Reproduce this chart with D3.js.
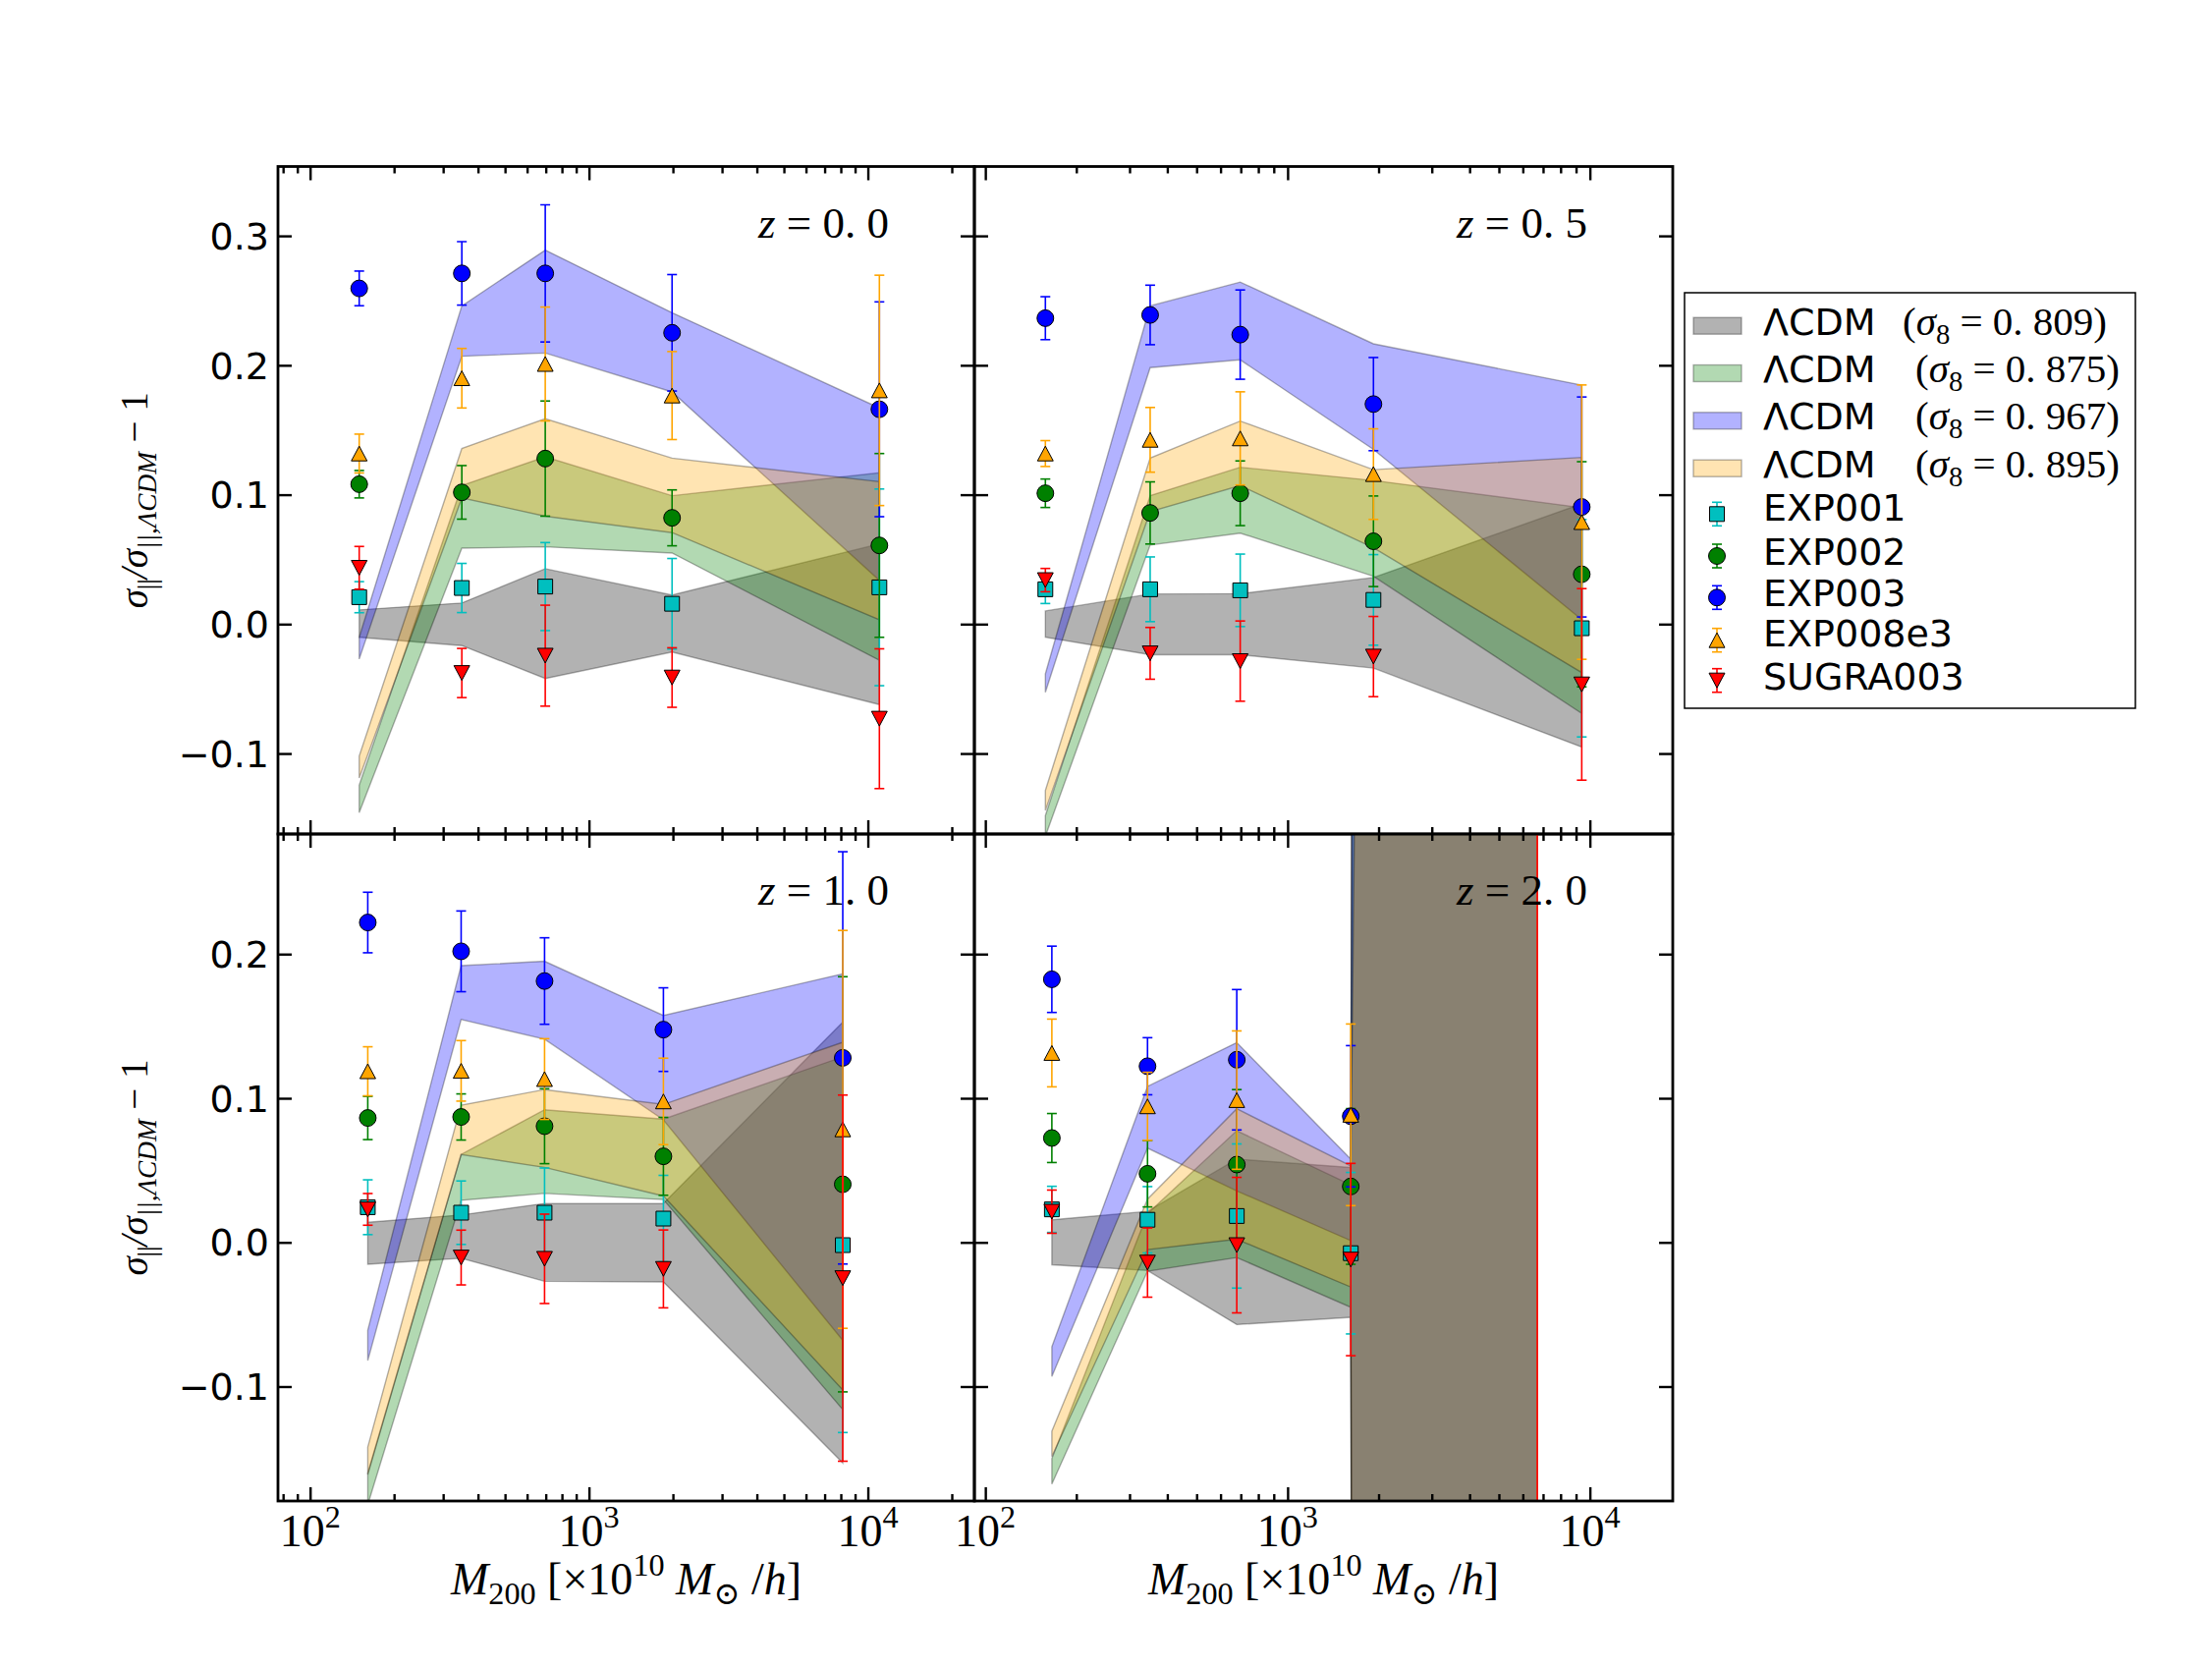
<!DOCTYPE html>
<html><head><meta charset="UTF-8">
<script src="https://cdn.jsdelivr.net/npm/d3@7"></script>
<style>
body{margin:0;background:#fff}
svg{display:block}
text{white-space:pre}
</style></head><body><svg id="fig" width="2252" height="1698"></svg>
<script>
// panels in reading order: z=0.0, z=0.5, z=1.0, z=2.0
const redshifts = ['0. 0', '0. 5', '1. 0', '2. 0'];
const massBins = [
  [150, 350, 697, 1986, 11000],
  [158, 351, 697, 1923, 9400],
  [161, 348, 693, 1849, 8130],
  [166, 344, 679, 1618, 6700]
];

// simulations (points with error bars); last z=2.0 bin is off scale
const exp001 = [[0.0208, 0.0279, 0.029, 0.0157, 0.0284], [0.0269, 0.0269, 0.0261, 0.0187, -0.0032], [0.0244, 0.0206, 0.0206, 0.0165, -0.0019], [0.0229, 0.0157, 0.0183, -0.0075, 2.5]];
const exp001Err = [[0.012, 0.019, 0.034, 0.035, 0.076], [0.011, 0.025, 0.028, 0.035, 0.084], [0.019, 0.022, 0.031, 0.03, 0.13], [0.016, 0.023, 0.05, 0.056, 30]];
const exp002 = [[0.1081, 0.1018, 0.1279, 0.0821, 0.0608], [0.1011, 0.0859, 0.1011, 0.064, 0.0385], [0.0863, 0.087, 0.0806, 0.0597, 0.0403], [0.0724, 0.0476, 0.054, 0.0388, 2.5]];
const exp002Err = [[0.0106, 0.0207, 0.0445, 0.0216, 0.071], [0.011, 0.024, 0.025, 0.035, 0.087], [0.015, 0.016, 0.026, 0.027, 0.144], [0.017, 0.023, 0.052, 0.054, 30]];
const exp003 = [[0.2594, 0.271, 0.271, 0.2251, 0.166], [0.2364, 0.2389, 0.2237, 0.17, 0.0905], [0.2219, 0.2019, 0.1813, 0.1476, 0.128], [0.1825, 0.1222, 0.1267, 0.0875, 2.5]];
const exp003Err = [[0.0134, 0.0245, 0.053, 0.045, 0.083], [0.0166, 0.023, 0.0345, 0.036, 0.085], [0.021, 0.028, 0.03, 0.029, 0.143], [0.023, 0.0198, 0.0487, 0.049, 30]];
const exp008e3 = [[0.1318, 0.19, 0.201, 0.1766, 0.1806], [0.1318, 0.1424, 0.1435, 0.1159, 0.0788], [0.1187, 0.119, 0.1133, 0.0978, 0.0784], [0.1314, 0.0944, 0.0987, 0.0885, 2.5]];
const exp008e3Err = [[0.015, 0.023, 0.044, 0.034, 0.089], [0.01, 0.025, 0.036, 0.035, 0.106], [0.017, 0.021, 0.028, 0.03, 0.138], [0.0235, 0.0236, 0.048, 0.063, 30]];
const sugra003 = [[0.0435, -0.0378, -0.0244, -0.0413, -0.0731], [0.034, -0.0226, -0.0286, -0.0251, -0.0466], [0.0229, -0.0105, -0.0114, -0.0184, -0.0248], [0.0213, -0.014, -0.0019, -0.0119, 2.5]];
const sugra003Err = [[0.0165, 0.019, 0.039, 0.023, 0.054], [0.009, 0.02, 0.031, 0.031, 0.074], [0.011, 0.019, 0.031, 0.027, 0.127], [0.015, 0.024, 0.047, 0.0667, 30]];

// LCDM bands (upper / lower edge)
const lcdm809Hi = [[0.011, 0.0163, 0.0428, 0.0225, 0.062], [0.0102, 0.0233, 0.0235, 0.036, 0.093], [0.014, 0.019, 0.027, 0.027, 0.1528], [0.0157, 0.0215, 0.0578, 0.052, 50]];
const lcdm809Lo = [[-0.0102, -0.0166, -0.042, -0.0216, -0.0622], [-0.0102, -0.0237, -0.0237, -0.034, -0.095], [-0.0152, -0.011, -0.027, -0.0274, -0.153], [-0.0155, -0.0195, -0.057, -0.052, -50]];
const lcdm875Hi = [[-0.1245, 0.107, 0.1293, 0.0992, 0.117], [-0.148, 0.0993, 0.1212, 0.111, 0.09], [-0.16, 0.061, 0.092, 0.0855, 0.1287], [-0.15, 0.02, 0.0775, 0.04, 50]];
const lcdm875Lo = [[-0.1456, 0.0587, 0.0597, 0.0549, -0.028], [-0.164, 0.0611, 0.0703, 0.037, -0.069], [-0.182, 0.0292, 0.034, 0.0297, -0.116], [-0.1676, -0.02, -0.0105, -0.045, -50]];
const lcdm967Hi = [[-0.0102, 0.2459, 0.289, 0.2406, 0.167], [-0.0385, 0.2459, 0.2643, 0.2166, 0.1847], [-0.061, 0.192, 0.195, 0.1574, 0.1863], [-0.0724, 0.1082, 0.1386, 0.0578, 50]];
const lcdm967Lo = [[-0.027, 0.207, 0.2095, 0.1794, 0.0338], [-0.0527, 0.1982, 0.2042, 0.135, 0.0034], [-0.082, 0.1546, 0.141, 0.085, -0.068], [-0.093, 0.0654, 0.0357, 0.0012, -50]];
const lcdm895Hi = [[-0.102, 0.1357, 0.1587, 0.1282, 0.11], [-0.1286, 0.1283, 0.1569, 0.1193, 0.1288], [-0.142, 0.0952, 0.106, 0.0957, 0.1388], [-0.131, 0.03, 0.0927, 0.053, 12]];
const lcdm895Lo = [[-0.119, 0.0975, 0.0834, 0.0707, 0.0034], [-0.144, 0.0869, 0.107, 0.059, -0.0375], [-0.161, 0.061, 0.052, 0.0322, -0.1023], [-0.1486, -0.005, 0.0022, -0.031, -50]];
const sigma8 = ['0. 809', '0. 875', '0. 967', '0. 895'];

const xTickExp = [2, 3, 4];
const yTicksTop = [-0.1, 0, 0.1, 0.2, 0.3];
const yTicksBottom = [-0.1, 0, 0.1, 0.2];

const svg = d3.select('#fig');
const defs = svg.append('defs');
const serif = '"Liberation Serif","DejaVu Serif",serif';
const sans = '"DejaVu Sans",sans-serif';

const cols = [{x0: 283, x1: 992, dom: [76.7, 24100]}, {x0: 992, x1: 1703, dom: [92, 18800]}];
const rows = [{y0: 169.5, y1: 849, dom: [-0.1622, 0.3536], ticks: yTicksTop}, {y0: 849, y1: 1528, dom: [-0.1794, 0.2833], ticks: yTicksBottom}];

const bands = [
  {hi: lcdm809Hi, lo: lcdm809Lo, color: '#000000'},
  {hi: lcdm875Hi, lo: lcdm875Lo, color: '#008000'},
  {hi: lcdm967Hi, lo: lcdm967Lo, color: '#0000ff'},
  {hi: lcdm895Hi, lo: lcdm895Lo, color: '#ffa500'}
];
const series = [
  {name: 'EXP001', val: exp001, err: exp001Err, color: '#00bfbf', shape: 'square'},
  {name: 'EXP002', val: exp002, err: exp002Err, color: '#008000', shape: 'circle'},
  {name: 'EXP003', val: exp003, err: exp003Err, color: '#0000ff', shape: 'circle'},
  {name: 'EXP008e3', val: exp008e3, err: exp008e3Err, color: '#ffa500', shape: 'up'},
  {name: 'SUGRA003', val: sugra003, err: sugra003Err, color: '#ff0000', shape: 'down'}
];

const markerPath = shape => {
  if (shape === 'square') return 'M-7.5,-7.5h15v15h-15Z';
  if (shape === 'up') return 'M0,-7.5L8,7.5L-8,7.5Z';
  if (shape === 'down') return 'M0,7.5L8,-7.5L-8,-7.5Z';
  return d3.symbol(d3.symbolCircle, Math.PI * 72)();
};

// text with sub/superscripts: parts = [[text, kind]]
const rich = (t, parts, size) => {
  let shift = 0;
  parts.forEach(([txt, kind]) => {
    const sub = kind.startsWith('sub'), sup = kind.startsWith('sup');
    const target = sub ? size * 0.22 : sup ? -size * 0.42 : 0;
    const ts = t.append('tspan').text(txt).attr('dy', target - shift)
      .attr('font-size', (sub || sup) ? size * 0.7 : size);
    shift = target;
    if (kind.endsWith('i')) ts.attr('font-style', 'italic');
  });
};

const drawErrorbar = (g, cx, y, v, e, s) => {
  g.append('line').attr('x1', cx).attr('x2', cx).attr('y1', y(v - e)).attr('y2', y(v + e))
    .attr('stroke', s.color).attr('stroke-width', 1.6);
  [v - e, v + e].forEach(c => g.append('line').attr('x1', cx - 5).attr('x2', cx + 5)
    .attr('y1', y(c)).attr('y2', y(c)).attr('stroke', s.color).attr('stroke-width', 1.6));
  g.append('path').attr('d', markerPath(s.shape)).attr('transform', `translate(${cx},${y(v)})`)
    .attr('fill', s.color).attr('stroke', '#000').attr('stroke-width', 1);
};

redshifts.forEach((z, i) => {
  const col = cols[i % 2], row = rows[Math.floor(i / 2)];
  const x = d3.scaleLog().domain(col.dom).range([col.x0, col.x1]);
  const y = d3.scaleLinear().domain(row.dom).range([row.y1, row.y0]);
  defs.append('clipPath').attr('id', 'clip' + i).append('rect')
    .attr('x', col.x0).attr('y', row.y0).attr('width', col.x1 - col.x0).attr('height', row.y1 - row.y0);
  const g = svg.append('g').attr('clip-path', `url(#clip${i})`);
  const m = massBins[i];

  bands.forEach(b => {
    const pts = m.map((mm, k) => ({m: mm, lo: b.lo[i][k], hi: b.hi[i][k]}));
    g.append('path')
      .attr('d', d3.area().x(d => x(d.m)).y0(d => y(d.lo)).y1(d => y(d.hi))(pts))
      .attr('fill', b.color).attr('fill-opacity', 0.3)
      .attr('stroke', '#000').attr('stroke-opacity', 0.3).attr('stroke-width', 1.4);
  });

  series.forEach(s => m.forEach((mm, k) => drawErrorbar(g, x(mm), y, s.val[i][k], s.err[i][k], s)));

  const zt = svg.append('text').attr('x', col.x1 - 87).attr('y', row.y0 + 72)
    .attr('text-anchor', 'end').attr('font-family', serif);
  rich(zt, [['z', 'i'], [' = ' + z, 'r']], 45);

  // ticks (inward) via d3 axes
  const majors = [100, 1000, 10000].filter(v => v >= col.dom[0] && v <= col.dom[1]);
  const minors = [];
  [10, 100, 1000, 10000].forEach(d => d3.range(2, 10).forEach(k => {
    const v = d * k;
    if (v >= col.dom[0] && v <= col.dom[1]) minors.push(v);
  }));
  const axes = [
    [d3.axisBottom(x).tickValues(majors).tickSize(-14), row.y1, 0],
    [d3.axisBottom(x).tickValues(minors).tickSize(-7), row.y1, 0],
    [d3.axisTop(x).tickValues(majors).tickSize(-14), row.y0, 0],
    [d3.axisTop(x).tickValues(minors).tickSize(-7), row.y0, 0],
    [d3.axisLeft(y).tickValues(row.ticks).tickSize(-14), 0, col.x0],
    [d3.axisRight(y).tickValues(row.ticks).tickSize(-14), 0, col.x1]
  ];
  axes.forEach(([ax, ty, tx]) => {
    const a = svg.append('g').attr('transform', `translate(${tx},${ty})`)
      .call(ax.tickSizeOuter(0).tickFormat(''));
    a.select('.domain').remove();
    a.selectAll('line').attr('stroke', '#000').attr('stroke-width', 2.4);
  });

  svg.append('rect').attr('x', col.x0).attr('y', row.y0).attr('width', col.x1 - col.x0)
    .attr('height', row.y1 - row.y0).attr('fill', 'none').attr('stroke', '#000').attr('stroke-width', 2.8);

  if (i % 2 === 0) {
    row.ticks.forEach(v => svg.append('text').attr('x', col.x0 - 9).attr('y', y(v)).attr('dy', '0.36em')
      .attr('text-anchor', 'end').attr('font-family', sans).attr('font-size', 38)
      .text(d3.format('.1f')(v).replace('-', '\u2212')));
    const yl = svg.append('text').attr('font-family', serif).attr('text-anchor', 'middle')
      .attr('transform', `translate(150,${(row.y0 + row.y1) / 2}) rotate(-90)`);
    rich(yl, [['\u03c3', 'i'], ['||', 'sub'], ['/\u03c3', 'i'], ['||,\u039bCDM', 'subi'], [' \u2212 1', 'r']], 39);
  }
  if (i >= 2) {
    xTickExp.forEach(e => {
      const t = svg.append('text').attr('x', x(Math.pow(10, e))).attr('y', 1574)
        .attr('text-anchor', 'middle').attr('font-family', serif);
      rich(t, [['10', 'r'], [String(e), 'sup']], 46);
    });
    const xl = svg.append('text').attr('x', (col.x0 + col.x1) / 2).attr('y', 1623)
      .attr('text-anchor', 'middle').attr('font-family', serif);
    rich(xl, [['M', 'i'], ['200', 'sub'], [' [\u00d710', 'r'], ['10', 'sup'], [' M', 'i'], ['\u2299', 'sub'], [' /', 'r'], ['h', 'i'], [']', 'r']], 46);
  }
});

// legend
const lg = svg.append('g');
lg.append('rect').attr('x', 1715).attr('y', 298).attr('width', 459).attr('height', 423)
  .attr('fill', '#fff').attr('stroke', '#000').attr('stroke-width', 1.5);
const bandRows = [331.7, 380, 428.3, 476.7];
const bandBase = [341, 389, 437.3, 485.7];
const mathX = [1937, 1950, 1950, 1950];
bands.forEach((b, k) => {
  lg.append('rect').attr('x', 1724).attr('y', bandRows[k] - 8.5).attr('width', 49).attr('height', 17)
    .attr('fill', b.color).attr('fill-opacity', 0.3).attr('stroke', '#000').attr('stroke-opacity', 0.3).attr('stroke-width', 1.4);
  lg.append('text').attr('x', 1795).attr('y', bandBase[k]).attr('font-family', sans).attr('font-size', 38).text('\u039bCDM');
  const t = lg.append('text').attr('x', mathX[k]).attr('y', bandBase[k]).attr('font-family', serif);
  rich(t, [['(', 'r'], ['\u03c3', 'i'], ['8', 'sub'], [' = ' + sigma8[k] + ')', 'r']], 41);
});
const markRows = [523.3, 566, 608.3, 651.7, 692.7];
const markBase = [530, 575, 616.7, 658.3, 701.7];
series.forEach((s, k) => {
  const cy = markRows[k];
  lg.append('line').attr('x1', 1748).attr('x2', 1748).attr('y1', cy - 12).attr('y2', cy + 12).attr('stroke', s.color).attr('stroke-width', 1.6);
  [cy - 12, cy + 12].forEach(c => lg.append('line').attr('x1', 1743).attr('x2', 1753).attr('y1', c).attr('y2', c).attr('stroke', s.color).attr('stroke-width', 1.6));
  lg.append('path').attr('d', markerPath(s.shape)).attr('transform', `translate(1748,${cy})`)
    .attr('fill', s.color).attr('stroke', '#000').attr('stroke-width', 1);
  lg.append('text').attr('x', 1795).attr('y', markBase[k]).attr('font-family', sans).attr('font-size', 38).text(s.name);
});
</script></body></html>
